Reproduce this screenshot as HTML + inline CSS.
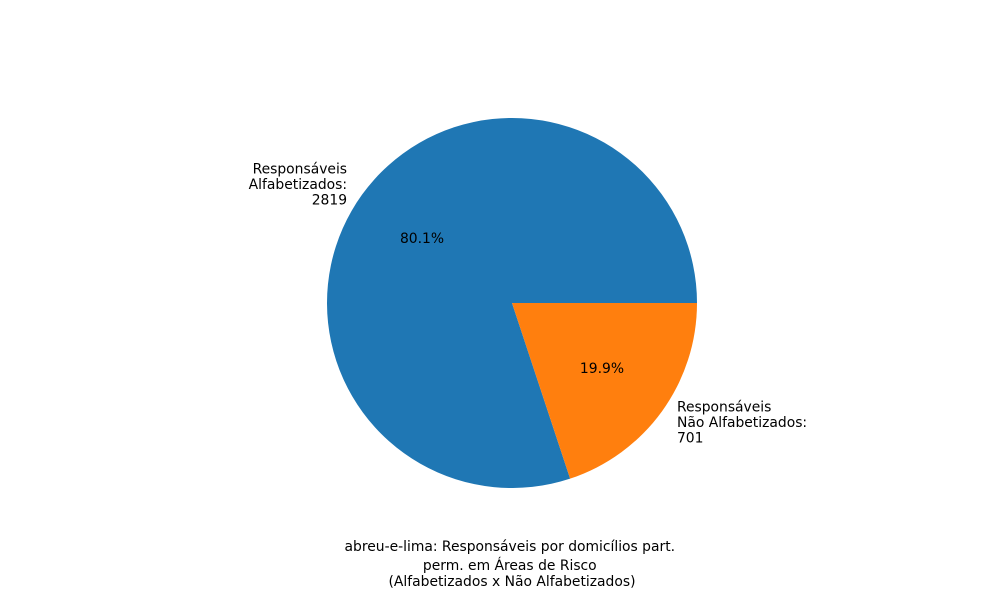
<!DOCTYPE html>
<html><head><meta charset="utf-8"><style>
html,body{margin:0;padding:0;background:#fff;}
svg{display:block;font-family:"DejaVu Sans","Liberation Sans",sans-serif;}
</style></head><body>
<svg id="chart" width="1000" height="600" viewBox="0 0 1000 600">
<rect width="1000" height="600" fill="#fff"/>
<g id="slices"></g>
<g id="labels"></g>
<text text-anchor="middle" font-size="13.89" fill="#000">
<tspan x="512" y="551">abreu-e-lima: Responsáveis por domicílios part.</tspan>
<tspan x="512" y="570">perm. em Áreas de Risco</tspan>
<tspan x="512" y="586">(Alfabetizados x Não Alfabetizados)</tspan>
</text>
</svg>
<script>
const categories = [["Responsáveis","Alfabetizados:"],["Responsáveis","Não Alfabetizados:"]];
const values = [2819, 701];
const colors = ["#1f77b4", "#ff7f0e"];
const cx = 512, cy = 303, R = 185;
const NS = "http://www.w3.org/2000/svg";
const total = values.reduce((a,b)=>a+b,0);
const sg = document.getElementById("slices"), lg = document.getElementById("labels");
function pt(a, r){ return [cx + r*Math.cos(a), cy - r*Math.sin(a)]; }
let start = 0;
values.forEach((v,i)=>{
  const sweep = v/total*2*Math.PI, end = start + sweep;
  const [x1,y1] = pt(start,R), [x2,y2] = pt(end,R);
  const large = sweep > Math.PI ? 1 : 0;
  const p = document.createElementNS(NS,"path");
  p.setAttribute("d", `M${cx},${cy} L${x1},${y1} A${R},${R} 0 ${large} 0 ${x2},${y2} Z`);
  p.setAttribute("fill", colors[i]);
  
  
  sg.appendChild(p);
  const mid = start + sweep/2;
  const [px,py] = pt(mid, R*0.6);
  const t = document.createElementNS(NS,"text");
  t.setAttribute("x", px); t.setAttribute("y", py+5);
  t.setAttribute("text-anchor","middle"); t.setAttribute("font-size","13.89");
  t.textContent = (v/total*100).toFixed(1) + "%";
  
  
  lg.appendChild(t);
  const [lx,ly] = pt(mid, R*1.1);
  const lt = document.createElementNS(NS,"text");
  lt.setAttribute("font-size","13.89");
  lt.setAttribute("text-anchor", Math.cos(mid) < 0 ? "end" : "start");
  
  
  const lines = [...categories[i], String(v)];
  lines.forEach((s,k)=>{
    const ts = document.createElementNS(NS,"tspan");
    ts.setAttribute("x", lx);
    ts.setAttribute("y", ly + (k-1)*15.5 + 5);
    ts.textContent = s;
    lt.appendChild(ts);
  });
  lg.appendChild(lt);
  start = end;
});
</script>
</body></html>
